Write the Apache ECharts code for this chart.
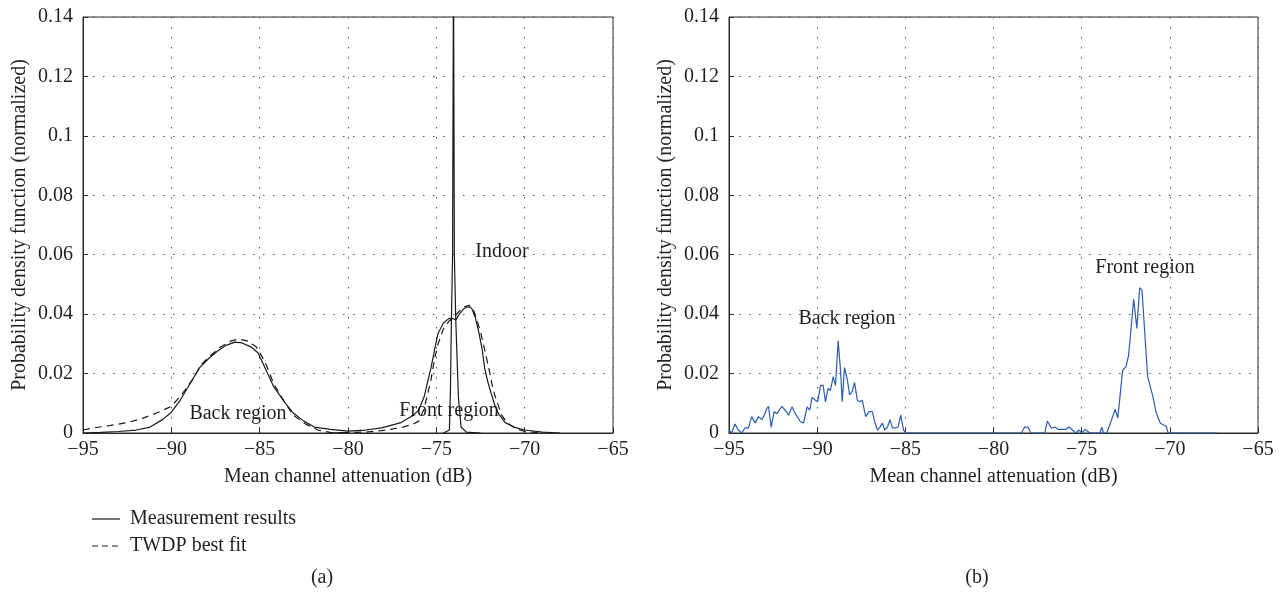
<!DOCTYPE html>
<html>
<head>
<meta charset="utf-8">
<script src="https://cdn.jsdelivr.net/npm/echarts@6/dist/echarts.min.js"></script>
<style>
  html, body { margin: 0; padding: 0; background: #fff; }
  #main { width: 1285px; height: 596px; }
</style>
</head>
<body>
<div id="main"></div>
<script>
// (a) back region, measurement (solid) and TWDP fit (dashed)
var backMeas = [[-95,0],[-94,0.0002],[-93,0.0005],[-92,0.001],[-91.2,0.002],[-90.5,0.0045],[-90,0.007],[-89.5,0.011],[-89,0.016],[-88.4,0.022],[-87.9,0.025],[-87.4,0.0275],[-86.9,0.0295],[-86.4,0.0306],[-86,0.0303],[-85.5,0.029],[-85.1,0.027],[-84.7,0.022],[-84.2,0.0155],[-83.6,0.0105],[-83.1,0.0067],[-82.5,0.004],[-81.9,0.002],[-81,0.0012],[-80,0.0006]];
var backFit = [[-95,0.001],[-94.4,0.0017],[-93.5,0.0025],[-92.5,0.0035],[-91.6,0.005],[-90.8,0.0068],[-90,0.009],[-89.4,0.013],[-88.8,0.018],[-88.3,0.023],[-87.8,0.026],[-87.2,0.029],[-86.6,0.031],[-86.2,0.0316],[-85.7,0.031],[-85.2,0.029],[-84.7,0.024],[-84.2,0.0165],[-83.6,0.0105],[-83.1,0.006],[-82.4,0.003],[-81.7,0.001],[-81,0.0002],[-80,0]];

// (a) front region, measurement and fit
var frontMeas = [[-80,0.0006],[-79,0.001],[-78.1,0.0017],[-77,0.0035],[-76.3,0.006],[-76,0.0077],[-75.7,0.012],[-75.5,0.017],[-75.3,0.022],[-75.1,0.028],[-74.9,0.0336],[-74.6,0.037],[-74.3,0.0385],[-74.1,0.0386],[-73.9,0.038],[-73.7,0.040],[-73.45,0.0418],[-73.2,0.0425],[-73,0.042],[-72.8,0.039],[-72.6,0.034],[-72.4,0.028],[-72.27,0.022],[-72.1,0.0175],[-71.9,0.0134],[-71.7,0.0095],[-71.5,0.0067],[-71.1,0.0035],[-70.6,0.002],[-70,0.001],[-69,0.0003],[-68,0]];
var frontFit = [[-81,0],[-79,0.0003],[-78.1,0.0008],[-77,0.0018],[-76.3,0.003],[-76,0.004],[-75.7,0.008],[-75.5,0.013],[-75.3,0.018],[-75.1,0.025],[-74.9,0.03],[-74.6,0.035],[-74.3,0.0375],[-74,0.039],[-73.7,0.041],[-73.4,0.0425],[-73.15,0.043],[-72.9,0.0415],[-72.7,0.038],[-72.5,0.034],[-72.3,0.029],[-72.0,0.021],[-71.8,0.015],[-71.6,0.011],[-71.3,0.006],[-71,0.0035],[-70.5,0.0015],[-70,0.0005],[-69,0]];

// (a) indoor spike
var indoorMeas = [[-74.6,0],[-74.26,0.001],[-74.2,0.015],[-74.15,0.037],[-74.08,0.06],[-74.03,0.16],[-73.98,0.06],[-73.9,0.038],[-73.75,0.012],[-73.6,0.002],[-73.3,0.0003],[-72.5,0]];

// (b) measured pdf
var measB = [[-95,0.001],[-94.85,0],[-94.66,0.003],[-94.47,0.001],[-94.28,0],[-94.09,0.0017],[-93.9,0.0017],[-93.71,0.0055],[-93.52,0.0034],[-93.33,0.0055],[-93.14,0.0045],[-93.0,0.006],[-92.85,0.0083],[-92.76,0.009],[-92.61,0.002],[-92.44,0.0072],[-92.28,0.0065],[-92.0,0.009],[-91.75,0.0072],[-91.62,0.006],[-91.43,0.0088],[-91.24,0.0065],[-90.95,0.0038],[-90.77,0.0034],[-90.57,0.0088],[-90.42,0.0077],[-90.29,0.012],[-90.1,0.011],[-89.97,0.0105],[-89.81,0.016],[-89.66,0.016],[-89.53,0.0105],[-89.38,0.015],[-89.25,0.0143],[-89.09,0.019],[-88.96,0.016],[-88.81,0.031],[-88.68,0.0215],[-88.58,0.0105],[-88.45,0.022],[-88.29,0.018],[-88.16,0.0128],[-88.01,0.014],[-87.88,0.017],[-87.72,0.011],[-87.58,0.0105],[-87.44,0.011],[-87.25,0.0055],[-87.06,0.0072],[-86.87,0.0072],[-86.74,0.0038],[-86.58,0.001],[-86.44,0.002],[-86.3,0.0033],[-86.17,0.001],[-86.01,0.002],[-85.87,0.0045],[-85.73,0.0017],[-85.54,0.0017],[-85.41,0.002],[-85.26,0.006],[-85.1,0.001],[-84.97,0],[-78.42,0],[-78.23,0.002],[-78.04,0.002],[-77.89,0],[-77.09,0],[-76.95,0.004],[-76.71,0.0016],[-76.52,0.002],[-76.33,0.0012],[-76.14,0.0012],[-75.9,0.0012],[-75.72,0.002],[-75.53,0.001],[-75.34,0],[-75.15,0.001],[-75.0,0],[-74.8,0.0012],[-74.53,0],[-73.96,0],[-73.86,0.002],[-73.76,0],[-73.58,0],[-73.39,0.003],[-73.1,0.008],[-72.95,0.005],[-72.68,0.021],[-72.49,0.0223],[-72.34,0.026],[-72.05,0.045],[-71.87,0.0352],[-71.71,0.0489],[-71.58,0.0481],[-71.26,0.019],[-70.97,0.0125],[-70.78,0.0069],[-70.54,0.0033],[-70.21,0.0023],[-70.1,0],[-67.3,0]];

var FONT = 'Liberation Serif';
var FS = 20;
var TXT = '#231f20';
var chart = echarts.init(document.getElementById('main'));

function xAxisCfg(gi) {
  return {
    type: 'value', gridIndex: gi, min: -95, max: -65, interval: 5,
    name: 'Mean channel attenuation (dB)', nameLocation: 'middle', nameGap: 34,
    nameTextStyle: { fontFamily: FONT, fontSize: FS, color: TXT },
    axisLine: { show: true, onZero: false, lineStyle: { color: '#2b2b2b', width: 1 } },
    axisTick: { show: true, inside: true, length: 5, lineStyle: { color: '#2b2b2b' } },
    axisLabel: { fontFamily: FONT, fontSize: FS, color: TXT, margin: 7,
      formatter: function (v) { return v < 0 ? '\u2212' + (-v) : String(v); } },
    splitLine: { show: true, lineStyle: { color: '#555', width: 1, type: [1.5, 8.5] } }
  };
}
function yAxisCfg(gi) {
  return {
    type: 'value', gridIndex: gi, min: 0, max: 0.14, interval: 0.02,
    name: 'Probability density function (normalized)', nameLocation: 'middle', nameGap: 53,
    nameTextStyle: { fontFamily: FONT, fontSize: FS, color: TXT },
    axisLine: { show: true, lineStyle: { color: '#2b2b2b', width: 1 } },
    axisTick: { show: true, inside: true, length: 5, lineStyle: { color: '#2b2b2b' } },
    axisLabel: { fontFamily: FONT, fontSize: FS, color: TXT, margin: 10,
      formatter: function (v) { return v === 0 ? '0' : String(+v.toFixed(2)); } },
    splitLine: { show: true, lineStyle: { color: '#555', width: 1, type: [1.5, 8.5] } }
  };
}
function lineSeries(name, data, gi, color, dashed) {
  return {
    name: name, type: 'line', data: data, xAxisIndex: gi, yAxisIndex: gi,
    showSymbol: false, symbol: 'none', smooth: false, clip: true, animation: false,
    lineStyle: { color: color, width: 1.2, type: dashed ? [7, 5] : 'solid' },
    itemStyle: { color: color }
  };
}

function txt(x, y, s, align) {
  return { type: 'text', x: x, y: y, style: { text: s, fontFamily: FONT, fontSize: FS, fill: TXT, align: align || 'center', verticalAlign: 'middle' } };
}
function legLine(y, dashed) {
  return { type: 'line', shape: { x1: 92, y1: y, x2: 120, y2: y },
    style: { stroke: '#1a1a1a', lineWidth: 1.2, lineDash: dashed ? [6, 4] : null } };
}

chart.setOption({
  backgroundColor: '#fff',
  animation: false,
  grid: [
    { left: 83, top: 17, width: 530, height: 416, show: true, borderColor: '#2b2b2b', borderWidth: 1 },
    { left: 729, top: 17, width: 529, height: 416, show: true, borderColor: '#2b2b2b', borderWidth: 1 }
  ],
  xAxis: [xAxisCfg(0), xAxisCfg(1)],
  yAxis: [yAxisCfg(0), yAxisCfg(1)],
  series: [
    lineSeries('Measurement results', backMeas, 0, '#1a1a1a', false),
    lineSeries('TWDP best fit', backFit, 0, '#1a1a1a', true),
    lineSeries('Measurement results', frontMeas, 0, '#1a1a1a', false),
    lineSeries('TWDP best fit', frontFit, 0, '#1a1a1a', true),
    lineSeries('Measurement results', indoorMeas, 0, '#1a1a1a', false),
    lineSeries('Measured (b)', measB, 1, '#2a5cb0', false)
  ],
  graphic: [
    txt(238, 414, 'Back region'),
    txt(449, 411, 'Front region'),
    txt(502, 252, 'Indoor'),
    txt(847, 319, 'Back region'),
    txt(1145, 268, 'Front region'),
    legLine(519, false),
    legLine(546, true),
    txt(130, 519, 'Measurement results', 'left'),
    txt(130, 546, 'TWDP best fit', 'left'),
    txt(322, 578, '(a)'),
    txt(977, 578, '(b)')
  ]
});
</script>
</body>
</html>
